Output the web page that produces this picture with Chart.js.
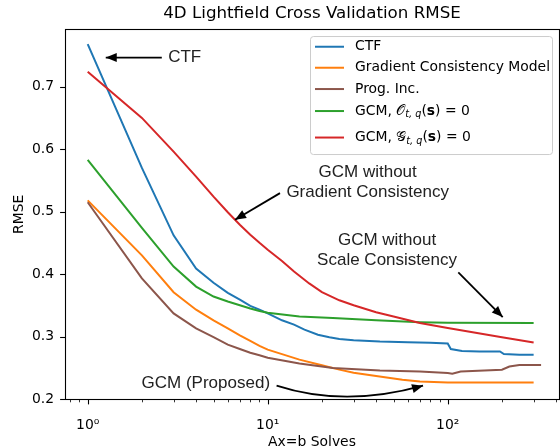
<!DOCTYPE html>
<html>
<head>
<meta charset="utf-8">
<script src="https://cdn.jsdelivr.net/npm/chart.js@4.4.1/dist/chart.umd.min.js"></script>
<style>
    html, body { margin: 0; padding: 0; width: 560px; height: 446px; overflow: hidden; background: #fff; }
    #chartBox { position: relative; width: 560px; height: 452px; }
</style>
</head>
<body>
<div id="chartBox"><canvas id="rmseChart"></canvas></div>
<script>
// number of Ax=b solves (x) against cross validation RMSE (y), one pair of arrays per method
const ctfSolves = [1, 2, 3, 4, 5, 6, 7, 8, 9, 10, 12, 14, 16, 19, 22, 25, 30, 42, 60, 80, 100, 104, 120, 150, 195, 205, 250, 300];
const ctfRmse = [0.768, 0.570, 0.462, 0.409, 0.386, 0.370, 0.359, 0.349, 0.343, 0.337, 0.326, 0.319, 0.311, 0.303, 0.299, 0.296, 0.294, 0.292, 0.291, 0.290, 0.289, 0.280, 0.277, 0.276, 0.276, 0.272, 0.271, 0.271];

const gcmSolves = [1, 2, 3, 4, 5, 6, 7, 8, 9, 10, 15, 20, 25, 30, 40, 56, 70, 100, 150, 200, 300];
const gcmRmse = [0.518, 0.430, 0.371, 0.343, 0.326, 0.313, 0.302, 0.293, 0.285, 0.279, 0.263, 0.254, 0.247, 0.242, 0.237, 0.231, 0.228, 0.2266, 0.2264, 0.2264, 0.2264];

const progSolves = [1, 2, 3, 4, 5, 6, 7, 8, 9, 10, 15, 23, 42, 70, 100, 106, 118, 200, 220, 250, 330];
const progRmse = [0.515, 0.393, 0.337, 0.313, 0.299, 0.287, 0.280, 0.274, 0.270, 0.266, 0.257, 0.2496, 0.2458, 0.244, 0.2416, 0.2405, 0.244, 0.247, 0.252, 0.2544, 0.2544];

const noScaleSolves = [1, 2, 3, 4, 5, 6, 7, 8, 9, 10, 15, 23, 40, 70, 100, 300];
const noScaleRmse = [0.583, 0.474, 0.412, 0.380, 0.364, 0.356, 0.350, 0.345, 0.341, 0.338, 0.332, 0.3296, 0.326, 0.323, 0.322, 0.3216];

const noGradSolves = [1, 2, 3, 4, 5, 6, 7, 8, 9, 10, 12, 14, 17, 20, 25, 30, 40, 50, 70, 100, 200, 300];
const noGradRmse = [0.724, 0.650, 0.596, 0.556, 0.524, 0.499, 0.479, 0.463, 0.450, 0.439, 0.421, 0.404, 0.385, 0.371, 0.358, 0.350, 0.339, 0.332, 0.3216, 0.3136, 0.299, 0.2906];

const seriesNames = ['CTF', 'Gradient Consistency Model', 'Prog. Inc.', 'GCM, 𝒪_{t, q}(𝐬) = 0', 'GCM, 𝒢_{t, q}(𝐬) = 0'];
const seriesColors = ['#1f77b4', '#ff7f0e', '#8c564b', '#2ca02c', '#d62728'];

const xTickValues = [1, 10, 100];
const xTickLabels = ['10⁰', '10¹', '10²'];
const xMinorTicks = [0.8, 0.9, 2, 3, 4, 5, 6, 7, 8, 9, 20, 30, 40, 50, 60, 70, 80, 90, 200, 300, 400];
const yTickValues = [0.2, 0.3, 0.4, 0.5, 0.6, 0.7];

// callouts, anchored in data units (solves, rmse)
const notes = [
    { lines: ['CTF'], at: [2.80, 0.7466], align: 'left' },
    { lines: ['GCM without', 'Gradient Consistency'], at: [35.9, 0.5466], align: 'center' },
    { lines: ['GCM without', 'Scale Consistency'], at: [46.0, 0.4384], align: 'center' },
    { lines: ['GCM (Proposed)'], at: [4.53, 0.2256], align: 'center' }
];
const arrows = [
    { from: [2.58, 0.7466], to: [1.26, 0.7466] },
    { from: [11.7, 0.5296], to: [6.58, 0.487] },
    { from: [114.5, 0.4026], to: [202, 0.3312] },
    { from: [11.2, 0.2213], via: [26.7, 0.186], to: [72.9, 0.2213] }
];

const FONT = 'DejaVu Sans';
const NOTE_FONT = '17px "Liberation Sans"';

function toPoints(xs, ys) {
    return xs.map((x, i) => ({ x: x, y: ys[i] }));
}

const seriesData = [
    toPoints(ctfSolves, ctfRmse),
    toPoints(gcmSolves, gcmRmse),
    toPoints(progSolves, progRmse),
    toPoints(noScaleSolves, noScaleRmse),
    toPoints(noGradSolves, noGradRmse)
];

function drawArrowHead(ctx, x, y, ang) {
    const len = 11, half = 4.5;
    const bx = x - len * Math.cos(ang), by = y - len * Math.sin(ang);
    ctx.beginPath();
    ctx.moveTo(x, y);
    ctx.lineTo(bx + half * Math.sin(ang), by - half * Math.cos(ang));
    ctx.lineTo(bx - half * Math.sin(ang), by + half * Math.cos(ang));
    ctx.closePath();
    ctx.fill();
}

// spines plus major/minor tick marks
const axesFrame = {
    id: 'axesFrame',
    afterDraw(chart) {
        const { ctx, chartArea: a, scales: { x, y } } = chart;
        ctx.save();
        ctx.strokeStyle = '#000';
        ctx.lineWidth = 1.1;
        yTickValues.forEach(v => {
            const py = Math.round(y.getPixelForValue(v)) + 0.5;
            ctx.beginPath(); ctx.moveTo(a.left - 4.9, py); ctx.lineTo(a.left, py); ctx.stroke();
        });
        xTickValues.forEach(v => {
            const px = Math.round(x.getPixelForValue(v)) + 0.5;
            ctx.beginPath(); ctx.moveTo(px, a.bottom); ctx.lineTo(px, a.bottom + 4.9); ctx.stroke();
        });
        ctx.lineWidth = 0.8;
        xMinorTicks.forEach(v => {
            const px = Math.round(x.getPixelForValue(v)) + 0.5;
            if (px > a.right) return;
            ctx.beginPath(); ctx.moveTo(px, a.bottom); ctx.lineTo(px, a.bottom + 2.8); ctx.stroke();
        });
        ctx.lineWidth = 1.1;
        ctx.strokeRect(Math.round(a.left) + 0.5, Math.round(a.top) + 0.5,
            Math.round(a.right - a.left), Math.round(a.bottom - a.top));
        ctx.restore();
    }
};

// text callouts with arrows
const notesLayer = {
    id: 'notesLayer',
    afterDatasetsDraw(chart) {
        const { ctx, scales: { x, y } } = chart;
        const px = p => [x.getPixelForValue(p[0]), y.getPixelForValue(p[1])];
        ctx.save();
        ctx.font = NOTE_FONT;
        ctx.fillStyle = '#222';
        ctx.textBaseline = 'middle';
        notes.forEach(n => {
            const [cx, cy] = px(n.at);
            ctx.textAlign = n.align;
            const top = cy - (n.lines.length - 1) * 10;
            n.lines.forEach((line, i) => ctx.fillText(line, cx, top + i * 20));
        });

        ctx.strokeStyle = '#000';
        ctx.fillStyle = '#000';
        ctx.lineWidth = 1.8;
        arrows.forEach(ar => {
            const [x0, y0] = px(ar.from);
            const [x1, y1] = px(ar.to);
            ctx.beginPath();
            ctx.moveTo(x0, y0);
            let ang;
            if (ar.via) {
                const [cx, cy] = px(ar.via);
                ctx.quadraticCurveTo(cx, cy, x1, y1);
                ang = Math.atan2(y1 - cy, x1 - cx);
            } else {
                ctx.lineTo(x1, y1);
                ang = Math.atan2(y1 - y0, x1 - x0);
            }
            ctx.stroke();
            drawArrowHead(ctx, x1, y1, ang);
        });
        ctx.restore();
    }
};

// split a label into runs: _{..} becomes an italic subscript, 𝐬 a bold s
function labelRuns(label) {
    return label.split(/(_\{[^}]*\}|𝐬)/u).filter(s => s).map(s => {
        if (s.startsWith('_{')) return { t: s.slice(2, -1), font: 'italic 9.7px "' + FONT + '"', dy: 3.5 };
        if (s === '𝐬') return { t: 's', font: 'bold 13.9px "' + FONT + '"', dy: 0 };
        return { t: s, font: '13.9px "' + FONT + '"', dy: 0 };
    });
}

const legendPanel = {
    id: 'legendPanel',
    afterDraw(chart) {
        const { ctx, chartArea: a } = chart;
        const w = 242, h = 118;
        const left = a.right - 7 - w, top = a.top + 7;
        const rows = [10.7, 31.7, 53, 75, 101.5];
        ctx.save();
        ctx.beginPath();
        ctx.roundRect(left + 0.5, top + 0.5, w, h, 3);
        ctx.fillStyle = 'rgba(255,255,255,0.8)';
        ctx.fill();
        ctx.strokeStyle = '#cccccc';
        ctx.lineWidth = 1;
        ctx.stroke();

        chart.data.datasets.forEach((ds, i) => {
            const cy = top + rows[i];
            ctx.strokeStyle = ds.borderColor;
            ctx.lineWidth = 2;
            ctx.beginPath(); ctx.moveTo(left + 5, cy); ctx.lineTo(left + 34, cy); ctx.stroke();

            let tx = left + 45;
            ctx.fillStyle = '#000';
            ctx.textBaseline = 'middle';
            ctx.textAlign = 'left';
            labelRuns(ds.label).forEach(r => {
                ctx.font = r.font;
                ctx.fillText(r.t, tx, cy + r.dy);
                tx += ctx.measureText(r.t).width;
            });
        });
        ctx.restore();
    }
};

Chart.defaults.font.family = FONT;

const rmseChart = new Chart(document.getElementById('rmseChart'), {
    type: 'line',
    data: {
        datasets: seriesData.map((pts, i) => ({
            label: seriesNames[i],
            data: pts,
            borderColor: seriesColors[i],
            backgroundColor: seriesColors[i],
            borderWidth: 2,
            pointRadius: 0,
            tension: 0,
            fill: false,
            order: seriesData.length - i
        }))
    },
    options: {
        responsive: true,
        maintainAspectRatio: false,
        animation: false,
        events: [],
        layout: { padding: { left: 0, right: 1, top: 0, bottom: 0 } },
        plugins: {
            legend: { display: false },
            tooltip: { enabled: false },
            title: {
                display: true,
                text: '4D Lightfield Cross Validation RMSE',
                color: '#000',
                fullSize: false,
                font: { size: 16.7, weight: 'normal' },
                padding: { top: 4, bottom: 5 }
            }
        },
        scales: {
            x: {
                type: 'logarithmic',
                min: 0.748,
                max: 415,
                bounds: 'data',
                grid: { display: false, drawTicks: false },
                border: { display: false },
                afterBuildTicks: scale => { scale.ticks = xTickValues.map(v => ({ value: v })); },
                afterFit: scale => { scale.height = 52.5; },
                ticks: {
                    autoSkip: false,
                    maxRotation: 0,
                    padding: 18,
                    color: '#000',
                    font: { size: 13.9 },
                    callback: (value, index) => xTickLabels[index]
                },
                title: {
                    display: true,
                    text: 'Ax=b Solves',
                    color: '#000',
                    font: { size: 13.9 },
                    padding: { top: 0, bottom: 1.5 }
                }
            },
            y: {
                min: 0.1992,
                max: 0.7923,
                bounds: 'data',
                grid: { display: false, drawTicks: false },
                border: { display: false },
                afterBuildTicks: scale => { scale.ticks = yTickValues.map(v => ({ value: v })); },
                afterFit: scale => { scale.width = 65; },
                ticks: {
                    padding: 11,
                    color: '#000',
                    font: { size: 13.9 },
                    callback: value => value.toFixed(1)
                },
                title: {
                    display: true,
                    text: 'RMSE',
                    color: '#000',
                    font: { size: 13.9 },
                    padding: { top: 11, bottom: 0 }
                }
            }
        }
    },
    plugins: [notesLayer, axesFrame, legendPanel]
});
</script>
</body>
</html>
